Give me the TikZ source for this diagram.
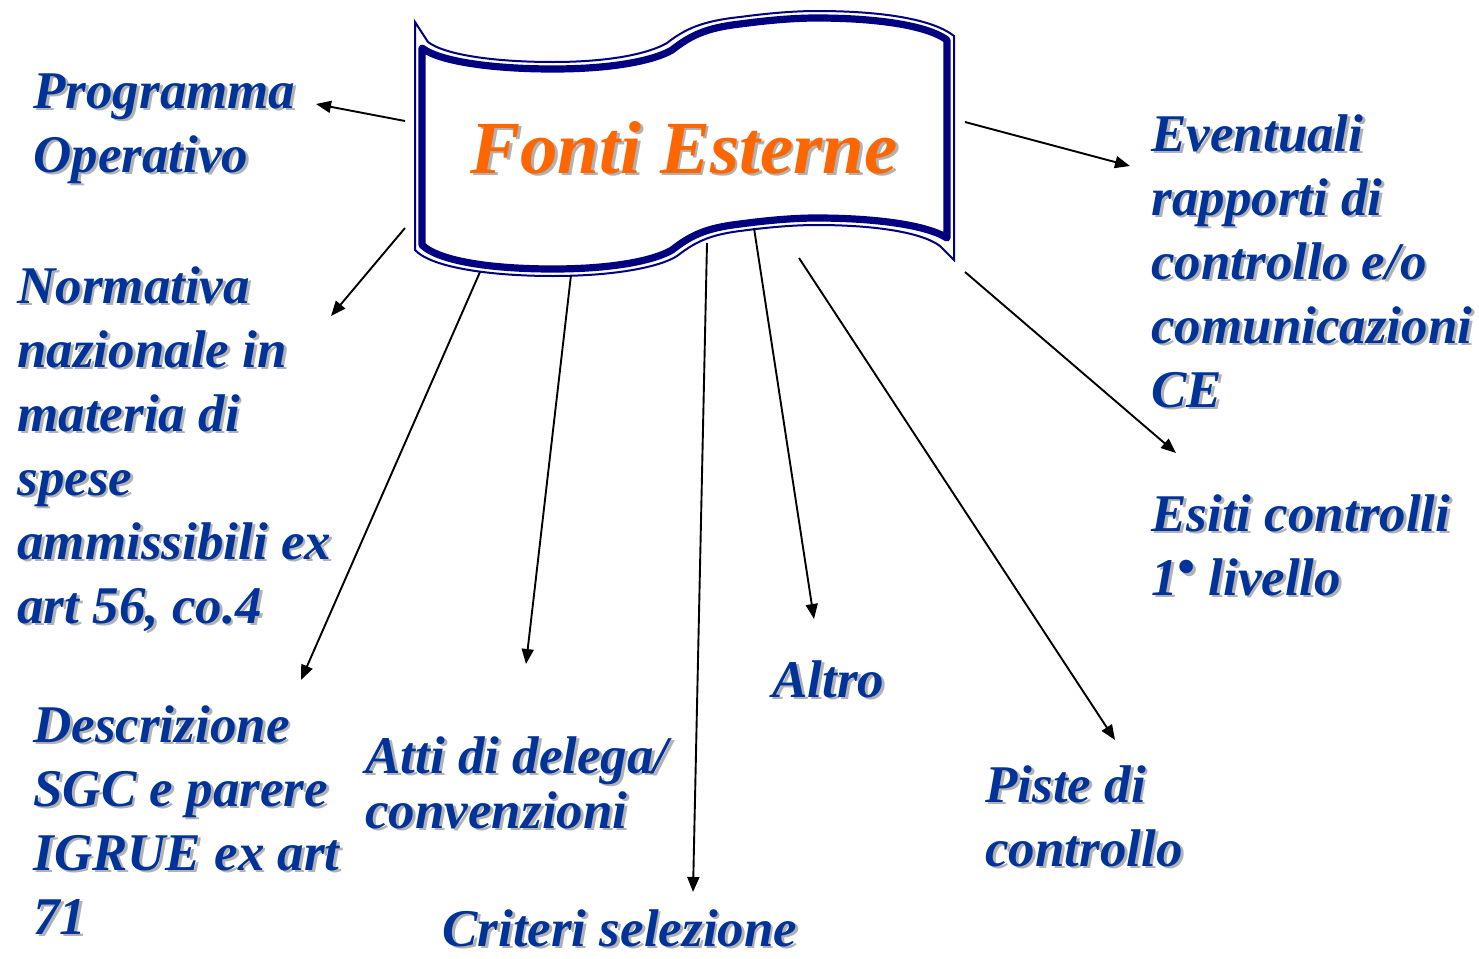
\documentclass[tikz,border=0pt]{standalone}
\usepackage{fontspec}
\setmainfont{Liberation Serif}
\usetikzlibrary{arrows.meta}
\definecolor{flagnavy}{RGB}{0,0,128}
\definecolor{labelblue}{RGB}{0,51,153}
\definecolor{titleorange}{RGB}{255,102,0}
\definecolor{shadowgray}{RGB}{178,178,178}
% text with a soft grey drop shadow
\newcommand{\sh}[1]{\rlap{\kern1.4pt\raisebox{-1.4pt}{\color{shadowgray}#1}}#1}
\newcommand{\raiseddot}{\raisebox{0.22em}{\fontsize{25}{25}\selectfont\textbullet}}

\begin{document}
\begin{tikzpicture}[
  x=0.5pt, y=-0.5pt,
  every node/.style={inner sep=0pt},
  lbl/.style={
    anchor=base west, align=left, text=labelblue,
    font=\fontsize{26.5}{32}\selectfont\bfseries\itshape
  },
  titletext/.style={
    anchor=base, text=titleorange,
    font=\fontsize{37.5}{44}\selectfont\bfseries\itshape
  },
  link/.style={-{Triangle[length=7.5pt,width=6pt]}, line width=0.95pt},
  bandline/.style={draw=flagnavy, line width=3.6pt, line join=round},
  rimline/.style={draw=flagnavy, line width=1pt, line join=miter}
]
\useasboundingbox (0,0) rectangle (1479,959);

% the flag
\path[fill=white] (415,22) -- (428,42) .. controls (445,55) and (495,62) .. (553,62)
  .. controls (612,62) and (650,53) .. (667,43) .. controls (685,29) and (702,21) .. (740,17)
  .. controls (770,13) and (795,11) .. (817,11) .. controls (872,11) and (930,17) .. (954,36)
  -- (954,260) -- (415,250) -- cycle;
\draw[rimline] (415,22) -- (428,42) .. controls (445,55) and (495,62) .. (553,62)
  .. controls (612,62) and (650,53) .. (667,43) .. controls (685,29) and (702,21) .. (740,17)
  .. controls (770,13) and (795,11) .. (817,11) .. controls (872,11) and (930,17) .. (954,36)
  -- (954,260) -- (940,246) .. controls (920,231) and (868,225) .. (817,225)
  .. controls (795,225) and (770,227) .. (740,231) .. controls (708,235) and (694,243) .. (677,256)
  .. controls (660,267) and (615,276) .. (553,276) .. controls (492,276) and (432,268) .. (415,250)
  -- cycle;
\draw[bandline] (422,48) .. controls (440,62) and (495,69) .. (553,69)
  .. controls (615,69) and (655,60) .. (672,50) .. controls (690,36) and (705,28) .. (740,24)
  .. controls (770,20) and (795,18) .. (817,18) .. controls (870,18) and (925,24) .. (947,40)
  -- (947,238) .. controls (925,224) and (870,218) .. (817,218)
  .. controls (795,218) and (770,220) .. (740,224) .. controls (705,228) and (690,236) .. (672,250)
  .. controls (655,260) and (615,269) .. (553,269) .. controls (495,269) and (440,262) .. (422,245)
  -- cycle;

\node[titletext] (fonti) at (684,173) {\sh{Fonti Esterne}};

% sources (base = baseline of the last line)
\node[lbl] (prog) at (33,172) {\sh{Programma}\\\sh{Operativo}};
\node[lbl] (norm) at (17,623) {\sh{Normativa}\\\sh{nazionale in}\\\sh{materia di}\\
  \sh{spese}\\\sh{ammissibili ex}\\\sh{art 56, co.4}};
\node[lbl] (descr) at (33,934) {\sh{Descrizione}\\\sh{SGC e parere}\\\sh{IGRUE ex art}\\\sh{71}};
\node[lbl, font=\fontsize{26.5}{27.5}\selectfont\bfseries\itshape]
  (atti) at (365,828) {\sh{Atti di delega/}\\\sh{convenzioni}};
\node[lbl] (crit) at (442,946) {\sh{Criteri selezione}};
\node[lbl] (altro) at (772,697) {\sh{Altro}};
\node[lbl] (piste) at (985,866) {\sh{Piste di}\\\sh{controllo}};
\node[lbl] (event) at (1151,407) {\sh{Eventuali}\\\sh{rapporti di}\\\sh{controllo e/o}\\
  \sh{comunicazioni}\\\sh{CE}};
\node[lbl] (esiti) at (1151,595) {\sh{Esiti controlli}\\\sh{1\raiseddot\ livello}};

% connector ends
\coordinate (prog-s) at (405,121);   \coordinate (prog-e) at (316,104);
\coordinate (norm-s) at (405,228);   \coordinate (norm-e) at (331,316);
\coordinate (descr-s) at (480,272);  \coordinate (descr-e) at (301,680);
\coordinate (atti-s) at (571,275);   \coordinate (atti-e) at (526,664);
\coordinate (crit-s) at (707,243);   \coordinate (crit-e) at (693,892);
\coordinate (altro-s) at (754,228);  \coordinate (altro-e) at (814,619);
\coordinate (piste-s) at (799,258);  \coordinate (piste-e) at (1115,740);
\coordinate (event-s) at (965,122);  \coordinate (event-e) at (1130,166);
\coordinate (esiti-s) at (965,272);  \coordinate (esiti-e) at (1176,453);

\foreach \src in {prog,norm,descr,atti,crit,altro,piste,event,esiti}
  \draw[link] (\src-s) -- (\src-e);

\end{tikzpicture}
\end{document}
